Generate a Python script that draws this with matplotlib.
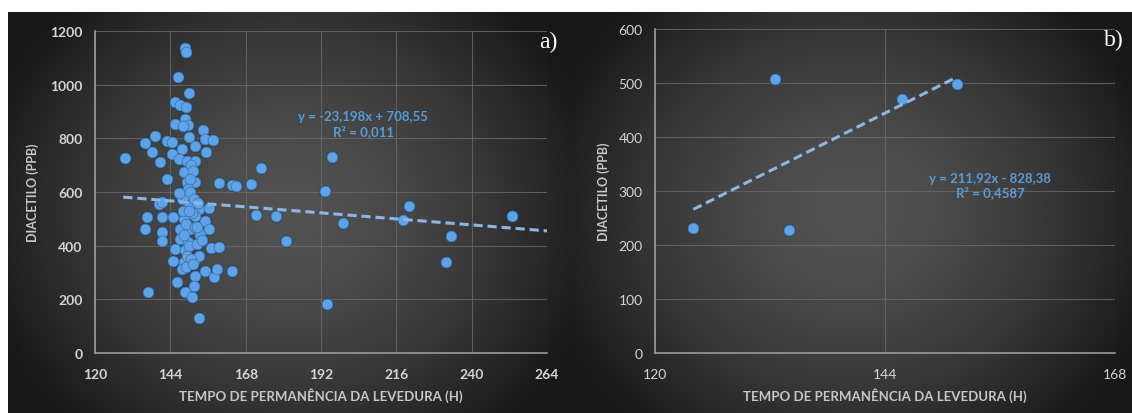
"""
Diacetilo vs tempo de permanência da levedura, two dark Excel-style panels.
"""
import numpy as np
import matplotlib
matplotlib.use('Agg')
import matplotlib.pyplot as plt

# panel a) data (hours, ppb)
xa = [148.8, 149.0, 146.3, 150.1, 145.6, 147.2, 149.0, 145.6, 148.8, 149.7,
      147.9, 154.3, 139.2, 136.0, 138.1, 142.9, 144.5, 149.9, 155.2, 157.5,
      151.8, 155.4, 144.5, 147.7, 140.8, 129.6, 146.7, 149.3, 152.0, 142.9,
      148.3, 149.3, 152.0, 159.5, 163.5, 140.3, 141.4, 147.7, 149.9, 153.0,
      156.2, 136.5, 141.3, 145.0, 148.3, 152.0, 155.2, 156.3, 136.0, 141.3,
      147.2, 150.4, 153.0, 141.3, 147.0, 149.6, 145.6, 148.8, 156.8, 159.5,
      145.0, 148.3, 151.5, 153.1, 147.7, 152.0, 155.2, 157.9, 159.0, 163.7,
      146.1, 151.5, 136.9, 148.8, 150.9, 153.0, 172.8, 169.6, 164.8, 195.5,
      193.4, 171.4, 177.8, 180.8, 193.8, 220.0, 218.1, 199.1, 233.4, 231.7,
      253.0, 150.5, 151.2, 149.5, 148.6, 150.2, 151.6, 152.8, 147.9, 150.8,
      149.1, 151.9, 153.6, 148.2, 150.0, 152.4, 149.4, 150.7, 148.9, 151.3,
      154.2, 146.8, 150.3, 152.6, 149.8]
ya = [1136, 1121, 1027, 968, 934, 924, 916, 853, 872, 850,
      845, 832, 808, 782, 750, 791, 785, 804, 798, 795,
      773, 750, 742, 760, 713, 725, 723, 717, 717, 649,
      673, 636, 636, 634, 626, 555, 562, 574, 549, 537,
      539, 506, 506, 506, 499, 512, 493, 462, 462, 452,
      462, 462, 450, 419, 425, 413, 388, 382, 390, 396,
      344, 338, 344, 363, 313, 288, 307, 282, 313, 307,
      263, 251, 226, 226, 207, 129, 690, 630, 621, 729,
      604, 514, 509, 419, 183, 549, 497, 483, 435, 340,
      509, 700, 680, 610, 590, 600, 575, 560, 530, 520,
      480, 470, 440, 440, 400, 405, 360, 350, 320, 330,
      420, 595, 650, 470, 530]
# trendline as drawn in the picture (start/end)
trend_ax = [129.0, 264.0]
trend_ay = [581, 455]

# panel b) data
xb = [124.0, 132.5, 134.0, 145.8, 151.5]
yb = [231, 507, 228, 470, 498]
trend_bx = [124.0, 151.5]
trend_by = [266, 511]

eq_a = 'y = -23,198x + 708,55\nR² = 0,011'
eq_b = 'y = 211,92x - 828,38\nR² = 0,4587'
xlabel = 'TEMPO DE PERMANÊNCIA DA LEVEDURA (H)'
ylabel = 'DIACETILO (PPB)'

W, H = 1132, 414
fig = plt.figure(figsize=(W / 100, H / 100), dpi=100)
fig.patch.set_facecolor('white')

FONT = ['Lato', 'DejaVu Sans']
TICK_C = '#d4d4d4'
LABEL_C = '#c8c8c8'
DOT_C = '#5fa3e6'
LINE_C = '#8db6e2'
EQ_C = '#5b9bd5'


def px_box(x0, y0, x1, y1):
    """pixel box (top-left origin) -> figure fraction rect"""
    return [x0 / W, 1 - y1 / H, (x1 - x0) / W, (y1 - y0) / H]


def background(rect):
    bg = fig.add_axes(rect, zorder=0)
    u, v = np.meshgrid(np.linspace(-1, 1, 300), np.linspace(-1, 1, 120))
    r = np.sqrt((u * 0.95) ** 2 + (v * 0.75) ** 2)
    val = np.clip(82 - 52 * r ** 1.6, 24, 90) / 255.0
    bg.imshow(np.dstack([val, val, val]), aspect='auto', extent=(0, 1, 0, 1))
    bg.set_axis_off()


def panel(rect, xs, ys, tx, ty, xlim, xticks, ylim, yticks, eq, eq_xy, tag,
          tag_xy, tick_weight, ypad):
    ax = fig.add_axes(rect, zorder=2)
    ax.set_facecolor('none')
    ax.set_xlim(*xlim)
    ax.set_ylim(*ylim)
    ax.set_xticks(xticks)
    ax.set_yticks(yticks)
    ax.grid(color='#6a6a6a', linewidth=0.8, alpha=0.8)
    ax.set_axisbelow(True)
    for s in ['top', 'right']:
        ax.spines[s].set_visible(False)
    for s in ['left', 'bottom']:
        ax.spines[s].set_color('#9a9a9a')
        ax.spines[s].set_linewidth(1.2)
    ax.tick_params(length=0, colors=TICK_C, labelsize=10)
    ax.tick_params(axis='x', pad=11)
    ax.tick_params(axis='y', pad=9)
    for lbl in ax.get_xticklabels() + ax.get_yticklabels():
        lbl.set_family(FONT)
        lbl.set_fontweight(tick_weight)

    ax.set_xlabel(xlabel, color=LABEL_C, fontsize=9.5, fontweight='bold',
                  family=FONT, labelpad=5)
    ax.set_ylabel(ylabel, color=LABEL_C, fontsize=9, fontweight='bold',
                  family=FONT, labelpad=ypad)

    # marker shadow, then marker
    ax.scatter(xs, ys, s=80, color='#1a3048', alpha=0.75, zorder=3,
               linewidths=0)
    ax.scatter(xs, ys, s=60, color=DOT_C, edgecolors='#3d78b0',
               linewidths=0.6, zorder=4)

    ax.plot(tx, ty, color=LINE_C, linewidth=2.2, dashes=(3, 1.6), zorder=5)

    ax.text(eq_xy[0], eq_xy[1], eq, color=EQ_C, fontsize=9.5,
            fontweight='bold', family=FONT, ha='center', va='center',
            linespacing=1.15, zorder=6)
    fig.text(tag_xy[0] / W, 1 - tag_xy[1] / H, tag, color='white',
             fontsize=17, family=['Liberation Serif', 'DejaVu Serif'],
             ha='right', va='center')
    return ax


background(px_box(8, 13, 570, 414))
background(px_box(570, 13, 1132, 414))

panel(px_box(95, 32, 547, 354), xa, ya, trend_ax, trend_ay, (120, 264),
      [120, 144, 168, 192, 216, 240, 264], (0, 1200),
      [0, 200, 400, 600, 800, 1000, 1200], eq_a, (205.5, 855),
      'a)', (557, 42), 'bold', 8)

panel(px_box(655, 30, 1115, 354), xb, yb, trend_bx, trend_by, (120, 168),
      [120, 144, 168], (0, 600), [0, 100, 200, 300, 400, 500, 600],
      eq_b, (155.0, 311), 'b)', (1124, 40), 'normal', 6)

fig.savefig('out.png', dpi=100, facecolor=fig.get_facecolor())
